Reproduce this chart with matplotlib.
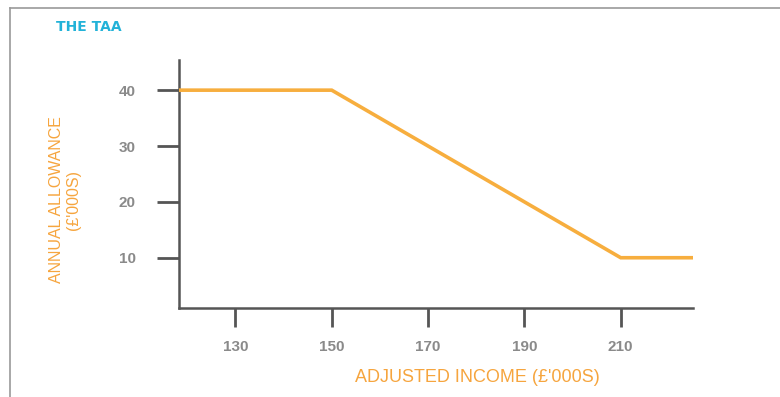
import matplotlib
matplotlib.use("Agg")
import matplotlib.pyplot as plt
from matplotlib.lines import Line2D

# Data
income = [118.3, 150, 210, 225]          # adjusted income (£'000s)
allowance = [40, 40, 10, 10]             # annual allowance (£'000s)
xticks = [130, 150, 170, 190, 210]
yticks = [10, 20, 30, 40]
title = "THE TAA"
xlabel = "ADJUSTED INCOME (£'000S)"
ylabel = "ANNUAL ALLOWANCE\n(£'000S)"

plt.rcParams['font.family'] = ['Liberation Sans', 'DejaVu Sans']

ORANGE = "#F7AE3E"
LABEL_ORANGE = "#F6A53E"
GRAY_TXT = "#8A8A8A"
AXIS = "#555555"
CYAN = "#22B2D8"

fig = plt.figure(figsize=(7.8, 3.97), dpi=100)
ax = fig.add_axes([179/780, (397-308)/397, (693-179)/780, (308-60)/397])

ax.plot(income, allowance, color=ORANGE, lw=2.6, solid_joinstyle='miter',
        solid_capstyle='butt', zorder=3)

ax.set_xlim(118.3, 225)
ax.set_ylim(1.0, 45.4)

for s in ['top', 'right']:
    ax.spines[s].set_visible(False)
for s in ['left', 'bottom']:
    ax.spines[s].set_color(AXIS)
    ax.spines[s].set_linewidth(1.8)

ax.set_xticks(xticks)
ax.set_yticks(yticks)
ax.tick_params(axis='y', direction='out', length=16, width=2, color=AXIS,
               labelcolor=GRAY_TXT, labelsize=11, pad=15)
ax.tick_params(axis='x', direction='out', length=14, width=2, color=AXIS,
               labelcolor=GRAY_TXT, labelsize=11, pad=9)
for lab in ax.get_xticklabels() + ax.get_yticklabels():
    lab.set_fontweight('bold')

fig.text(477/780, 1 - 378/397, xlabel, color=LABEL_ORANGE, fontsize=13,
         ha='center', va='center')
fig.text(65/780, 1 - 200/397, ylabel, color=LABEL_ORANGE, fontsize=11.5,
         ha='center', va='center', rotation=90, multialignment='center',
         linespacing=1.2)

fig.text(56/780, 1 - 27/397, title, color=CYAN, fontsize=10,
         fontweight='bold', family=['DejaVu Sans'], ha='left', va='center')

# outer frame (top and left edges)
fig.add_artist(Line2D([10/780, 1.0], [1 - 8/397, 1 - 8/397],
                      transform=fig.transFigure, color="#9A9A9A", lw=1.2))
fig.add_artist(Line2D([10/780, 10/780], [0, 1 - 8/397],
                      transform=fig.transFigure, color="#9A9A9A", lw=1.2))

fig.savefig("out.png", dpi=100)
